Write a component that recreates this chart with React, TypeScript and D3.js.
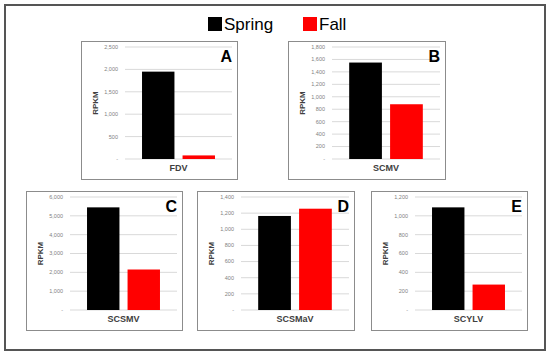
import React from 'react';
import * as d3 from 'd3';

// Seasons (legend + bar order)
const seasons = ['Spring', 'Fall'];
const seasonColors = ['#000000', '#ff0000'];

// One panel per virus
const panelLetters = ['A', 'B', 'C', 'D', 'E'];
const viruses = ['FDV', 'SCMV', 'SCSMV', 'SCSMaV', 'SCYLV'];
const springValues = [1950, 1550, 5450, 1165, 1090];
const fallValues = [80, 880, 2150, 1255, 270];
const yMax = [2500, 1800, 6000, 1400, 1200];
const yStep = [500, 200, 1000, 200, 200];

// panel boxes (x, y, w, h)
const boxes = [
  [81, 41, 156, 138],
  [288, 41, 157, 138],
  [26, 191, 156, 139],
  [197, 191, 157, 139],
  [371, 191, 156, 139],
];

const font = "'Liberation Sans', Arial, sans-serif";
const fmt = d3.format(',');

const Panel: React.FC<{ i: number }> = ({ i }) => {
  const [bx, by, bw, bh] = boxes[i];
  const plotLeft = 44;
  const plotRight = bw - 5;
  const plotTop = 6;
  const plotBottom = bh - 20;

  const y = d3.scaleLinear().domain([0, yMax[i]]).range([plotBottom, plotTop]);
  const x = d3
    .scaleBand<string>()
    .domain(seasons)
    .range([plotLeft, plotRight])
    .paddingInner(0.2)
    .paddingOuter(0.42);
  const ticks = d3.range(0, yMax[i] + yStep[i] / 2, yStep[i]);
  const values = [springValues[i], fallValues[i]];

  return (
    <g transform={`translate(${bx},${by})`}>
      <rect x={0.5} y={0.5} width={bw} height={bh} fill="#fff" stroke="#8c8c8c" strokeWidth={1} />
      {ticks.map((t) => (
        <g key={t}>
          <line x1={plotLeft} x2={plotRight} y1={y(t)} y2={y(t)} stroke="#d9d9d9" strokeWidth={1} />
          <text
            x={plotLeft - 7}
            y={y(t)}
            dy="0.35em"
            textAnchor="end"
            fontSize={5.5}
            fill="#7f7f7f"
            fontFamily={font}
          >
            {t === 0 ? '-' : fmt(t)}
          </text>
        </g>
      ))}
      {seasons.map((s, j) => (
        <rect
          key={s}
          x={x(s)}
          y={y(values[j])}
          width={x.bandwidth()}
          height={plotBottom - y(values[j])}
          fill={seasonColors[j]}
        />
      ))}
      <text
        x={(plotLeft + plotRight) / 2}
        y={plotBottom + 12}
        textAnchor="middle"
        fontSize={9}
        fontWeight="bold"
        fill="#404040"
        fontFamily={font}
      >
        {viruses[i]}
      </text>
      <text
        transform={`translate(${17},${(plotTop + plotBottom) / 2}) rotate(-90)`}
        textAnchor="middle"
        fontSize={8}
        fontWeight="bold"
        fill="#404040"
        fontFamily={font}
      >
        RPKM
      </text>
      <text
        x={bw - 5}
        y={21}
        textAnchor="end"
        fontSize={16}
        fontWeight="bold"
        fill="#000"
        fontFamily={font}
      >
        {panelLetters[i]}
      </text>
    </g>
  );
};

const App: React.FC = () => {
  const legendX = [208, 303];
  return (
    <svg
      width={550}
      height={353}
      style={{ position: 'absolute', left: 0, top: 0, background: '#fff' }}
    >
      <rect x={0} y={0} width={550} height={353} fill="#fff" />
      <rect x={5} y={5} width={540} height={345} fill="none" stroke="#555" strokeWidth={2} />
      {seasons.map((s, j) => (
        <g key={s} transform={`translate(${legendX[j]},17)`}>
          <rect x={0} y={0} width={14} height={14} fill={seasonColors[j]} />
          <text x={16} y={13} fontSize={17} fill="#000" fontFamily={font}>
            {s}
          </text>
        </g>
      ))}
      {panelLetters.map((_, i) => (
        <Panel key={i} i={i} />
      ))}
    </svg>
  );
};

export default App;
